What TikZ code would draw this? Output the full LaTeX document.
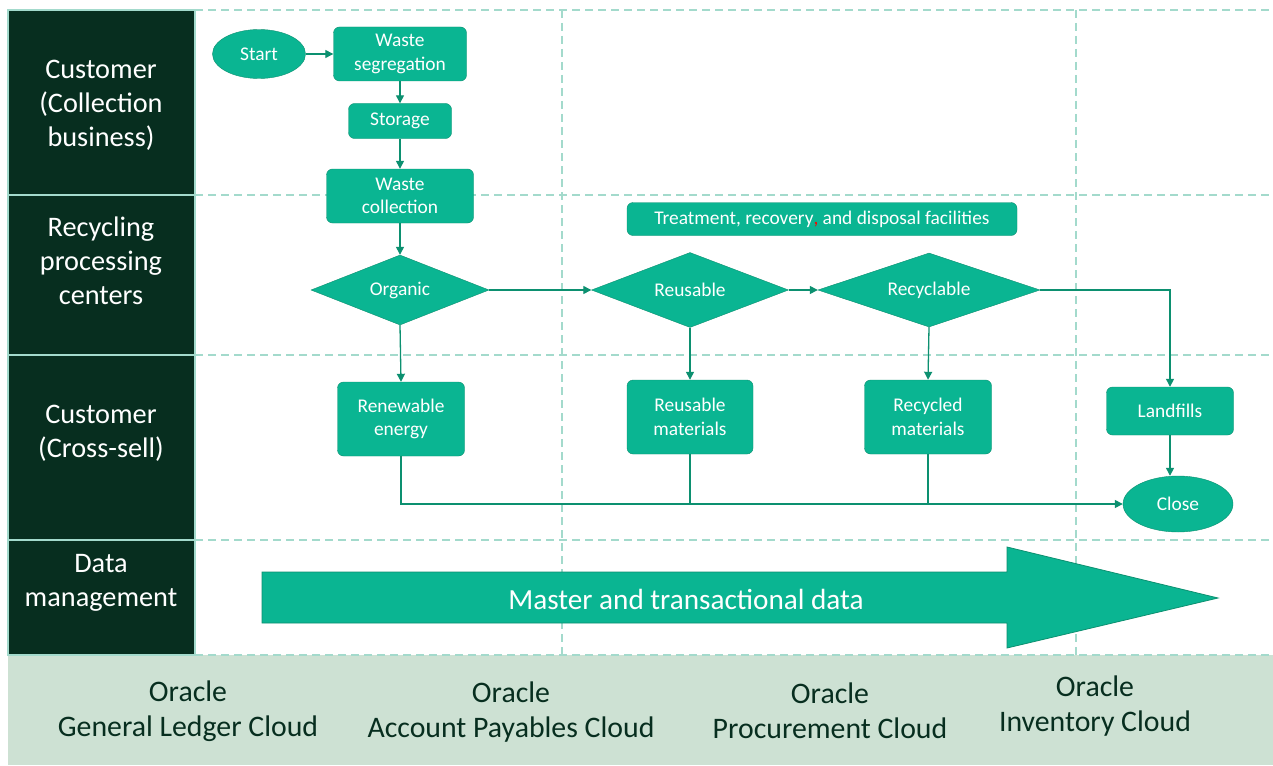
\documentclass[tikz,border=0pt]{standalone}
\usepackage{fontspec}
\setmainfont{Carlito}
\usetikzlibrary{shapes.geometric,arrows.meta,positioning}
\definecolor{lanedark}{HTML}{072E1F}
\definecolor{flowfill}{HTML}{0AB592}
\definecolor{flowedge}{HTML}{0C9070}
\definecolor{gridline}{HTML}{A3DACC}
\definecolor{cloudband}{HTML}{CDE1D3}
\begin{document}
\begin{tikzpicture}[x=1pt,y=-1pt,
    lanetext/.style={text=white,font=\fontsize{28.3}{34}\selectfont,align=center,anchor=center},
    box/.style={draw=flowedge,fill=flowfill,rounded corners=6pt,text=white,
        font=\fontsize{19.4}{23.5}\selectfont,align=center,inner sep=0pt},
    decision/.style={diamond,aspect=2.5,draw=flowedge,fill=flowfill,text=white,
        font=\fontsize{19.4}{23.5}\selectfont,inner sep=0pt},
    terminal/.style={ellipse,draw=flowedge,fill=flowfill,text=white,
        font=\fontsize{19.4}{23.5}\selectfont,inner sep=0pt},
    flow/.style={draw=flowedge,line width=1.3pt,-{Triangle[length=8pt,width=8pt]}},
    joinline/.style={draw=flowedge,line width=1.3pt},
    cloudtext/.style={text=lanedark,font=\fontsize{29.8}{35}\selectfont,align=center,anchor=center}]
    \useasboundingbox[fill=white] (0,0) rectangle (1273,765);
    %% swimlanes
    \fill[cloudband] (8,655) rectangle (1273,765);
    \foreach \ytop/\ybot in {10/195,195/355,355/540,540/655}
        \draw[fill=lanedark,draw=gridline,line width=1.5pt] (8,\ytop) rectangle (195,\ybot);
    \foreach \y in {10,195,355,540,655}
        \draw[gridline,line width=1.3pt,dash pattern=on 8pt off 5pt] (195,\y) -- (1273,\y);
    \foreach \x in {562,1076}
        \draw[gridline,line width=1.3pt,dash pattern=on 8pt off 5pt] (\x,10) -- (\x,655);
    \node[lanetext] (lane1) at (101,105) {Customer\\(Collection\\business)};
    \node[lanetext] (lane2) at (101,261) {Recycling\\processing\\centers};
    \node[lanetext] (lane3) at (101,433) {Customer\\(Cross-sell)};
    \node[lanetext] (lane4) at (101,583) {Data\\management};
    %% collection
    \node[terminal,minimum width=93pt,minimum height=49pt] (start) at (259,54) {Start};
    \node[box,minimum width=133pt,minimum height=54pt] (seg) at (400,54) {Waste\\segregation};
    \node[box,minimum width=103pt,minimum height=35pt] (storage) at (400,121) {Storage};
    \node[box,minimum width=147pt,minimum height=54pt] (coll) at (400,196) {Waste\\collection};
    %% processing
    \node[box,minimum width=390pt,minimum height=33pt] (treat) at (822,219)
        {Treatment, recovery{\color{red},} and disposal facilities};
    \node[decision,minimum width=178pt,minimum height=70pt] (organic) at (400,290) {Organic};
    \node[decision,minimum width=197pt,minimum height=75pt] (reusable) at (690,290) {Reusable};
    \node[decision,minimum width=222pt,minimum height=74pt] (recyclable) at (929,290) {Recyclable};
    %% cross-sell
    \node[box,minimum width=127pt,minimum height=74pt] (renew) at (401,419) {Renewable\\energy};
    \node[box,minimum width=126pt,minimum height=74pt] (reusemat) at (690,417) {Reusable\\materials};
    \node[box,minimum width=127pt,minimum height=74pt] (recymat) at (928,417) {Recycled\\materials};
    \node[box,minimum width=127pt,minimum height=48pt] (landfill) at (1170,411) {Landfills};
    \node[terminal,minimum width=110pt,minimum height=56pt] (close) at (1178,504) {Close};
    %% connectors
    \draw[flow] (start.east) -- (seg.west);
    \draw[flow] (seg.south) -- (storage.north);
    \draw[flow] (storage.south) -- (coll.north);
    \draw[flow] (coll.south) -- (organic.north);
    \draw[flow] (organic.east) -- (reusable.west);
    \draw[flow] (reusable.east) -- (recyclable.west);
    \draw[flow] (organic.south) -- (renew.north);
    \draw[flow] (reusable.south) -- (reusemat.north);
    \draw[flow] (recyclable.south) -- (recymat.north);
    \draw[flow] (recyclable.east) -| (landfill.north);
    \draw[flow] (landfill.south) -- (landfill.south |- close.north);
    \draw[flow] (renew.south) |- (close.west);
    \draw[joinline] (reusemat.south) -- (reusemat.south |- close.west);
    \draw[joinline] (recymat.south) -- (recymat.south |- close.west);
    %% data management
    \draw[fill=flowfill,draw=flowedge,line width=0.8pt] (262,572) -- (1007,572) -- (1007,547)
        -- (1218,598) -- (1007,648) -- (1007,623) -- (262,623) -- cycle;
    \node[text=white,font=\fontsize{29.2}{34}\selectfont] (data) at (686,599) {Master and transactional data};
    %% cloud services
    \node[cloudtext] (gl) at (188,711) {Oracle\\General Ledger Cloud};
    \node[cloudtext] (ap) at (511,712) {Oracle\\Account Payables Cloud};
    \node[cloudtext] (proc) at (830,711) {Oracle\\Procurement Cloud};
    \node[cloudtext] (inv) at (1095,706) {Oracle\\Inventory Cloud};
\end{tikzpicture}
\end{document}
